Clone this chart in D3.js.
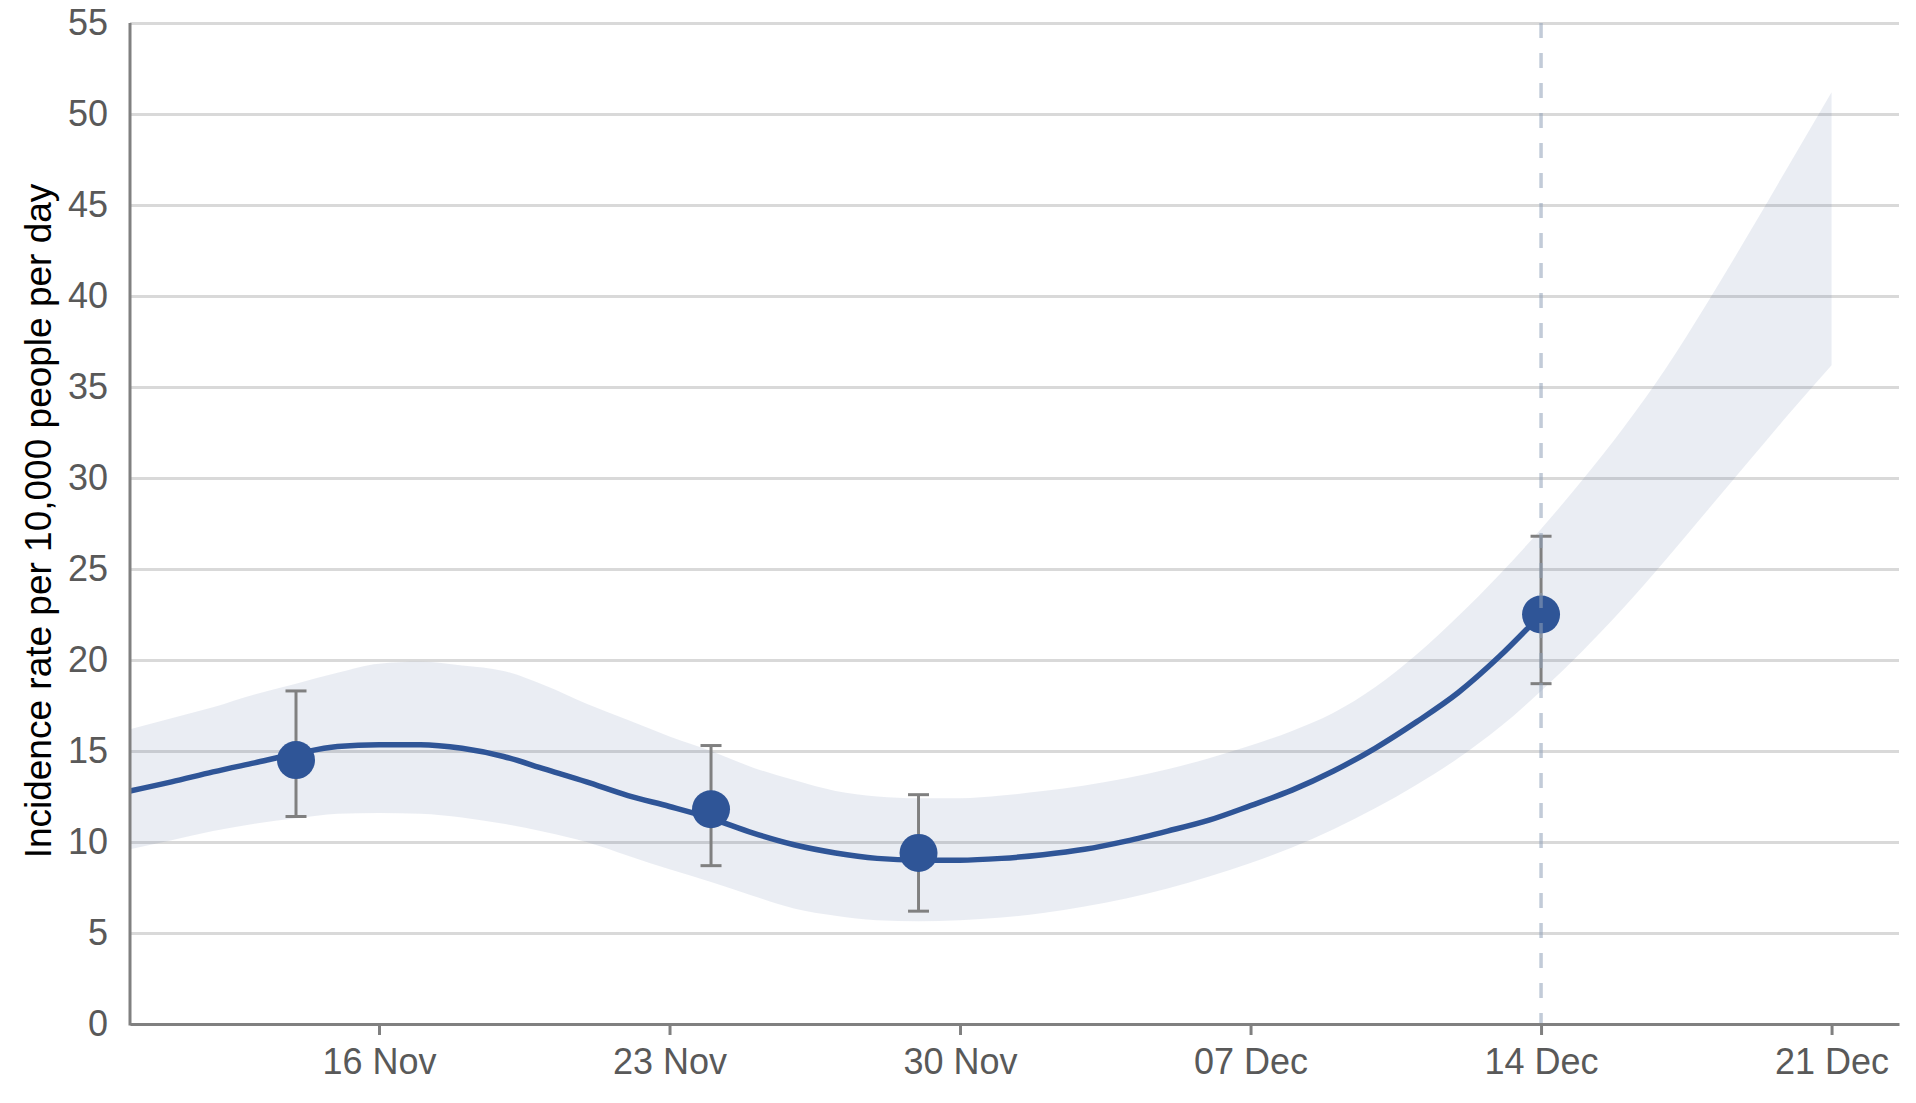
<!DOCTYPE html>
<head>
  <meta charset="utf-8">
  <title>Incidence rate</title>
  <script src="https://d3js.org/d3.v7.min.js"></script>
  <style>
    body { margin: 0; background: #fff; }
    svg { display: block; }
    .tick text { font-family: "Liberation Sans", Arial, sans-serif; font-size: 36px; fill: #595959; }
    .grid line { stroke: #d9d9d9; stroke-width: 3px; }
    .axis-x path, .axis-x line { stroke: #808080; stroke-width: 3px; }
    .ylabel { font-family: "Liberation Sans", Arial, sans-serif; font-size: 37px; fill: #000; }
  </style>
</head>
<body>
<script>
  // modelled daily band (lower / upper credible interval)
  var bandDates = ["2020-11-10","2020-11-11","2020-11-12","2020-11-13","2020-11-14","2020-11-15","2020-11-16",
    "2020-11-17","2020-11-18","2020-11-19","2020-11-20","2020-11-21","2020-11-22","2020-11-23","2020-11-24",
    "2020-11-25","2020-11-26","2020-11-27","2020-11-28","2020-11-29","2020-11-30","2020-12-01","2020-12-02",
    "2020-12-03","2020-12-04","2020-12-05","2020-12-06","2020-12-07","2020-12-08","2020-12-09","2020-12-10",
    "2020-12-11","2020-12-12","2020-12-13","2020-12-14","2020-12-15","2020-12-16","2020-12-17","2020-12-18",
    "2020-12-19","2020-12-20","2020-12-21"];
  var bandLower = [9.6, 10.1, 10.6, 11.0, 11.3, 11.55, 11.6, 11.55, 11.35, 11.0, 10.55, 10.0, 9.25, 8.5, 7.8,
    7.05, 6.35, 5.95, 5.7, 5.65, 5.7, 5.85, 6.1, 6.45, 6.9, 7.45, 8.1, 8.85, 9.7, 10.7, 11.85,
    13.15, 14.6, 16.3, 18.3, 20.5, 22.9, 25.5, 28.2, 30.9, 33.6, 36.2];
  var bandUpper = [16.2, 16.8, 17.4, 18.1, 18.7, 19.3, 19.8, 19.9, 19.7, 19.4, 18.6, 17.6, 16.7, 15.8, 15.0,
    14.1, 13.4, 12.8, 12.5, 12.4, 12.4, 12.55, 12.8, 13.1, 13.5, 14.0, 14.6, 15.3, 16.1, 17.1, 18.5,
    20.3, 22.4, 24.7, 27.2, 29.9, 32.8, 36.0, 39.6, 43.4, 47.3, 51.2];

  // modelled central estimate, 10 Nov to 14 Dec
  var lineValues = [12.8, 13.3, 13.85, 14.35, 14.85, 15.25, 15.35, 15.35, 15.15, 14.7, 14.0, 13.3, 12.55, 11.95, 11.3,
    10.5, 9.85, 9.4, 9.1, 9.0, 9.0, 9.1, 9.3, 9.6, 10.05, 10.6, 11.2, 12.0, 12.85, 13.9, 15.15,
    16.6, 18.2, 20.2, 22.5];

  // official estimates with 95% intervals
  var pointDates = ["2020-11-14", "2020-11-24", "2020-11-29", "2020-12-14"];
  var pointValues = [14.5, 11.8, 9.4, 22.5];
  var pointLower = [11.4, 8.7, 6.2, 18.7];
  var pointUpper = [18.3, 15.3, 12.6, 26.8];

  var xTickDates = ["2020-11-16", "2020-11-23", "2020-11-30", "2020-12-07", "2020-12-14", "2020-12-21"];
  var yTicks = [0, 5, 10, 15, 20, 25, 30, 35, 40, 45, 50, 55];
  var markerDate = "2020-12-14";
  var yLabel = "Incidence rate per 10,000 people per day";

  var W = 1916, H = 1103;
  var margin = {top: 23, right: 17, bottom: 79, left: 130};
  var width = W - margin.left - margin.right,
      height = H - margin.top - margin.bottom;

  var parse = d3.utcParse("%Y-%m-%d");

  var x = d3.scaleUtc()
    .domain([parse("2020-11-10"), new Date(Date.UTC(2020, 11, 22, 15))])
    .range([0, width]);
  var y = d3.scaleLinear().domain([0, 55]).range([height, 0]);

  var svg = d3.select("body").append("svg")
    .attr("width", W)
    .attr("height", H)
  .append("g")
    .attr("transform", "translate(" + margin.left + "," + margin.top + ")");

  // gridlines + y tick labels
  var gy = svg.append("g")
    .attr("class", "grid")
    .call(d3.axisLeft(y).tickValues(yTicks).tickSize(-width).tickPadding(22));
  gy.select(".domain").remove();
  gy.selectAll(".tick text").attr("dy", "0.33em");
  gy.selectAll(".tick line").filter(d => d === 0).remove();

  var band = bandDates.map((d, i) => ({date: parse(d), lo: bandLower[i], hi: bandUpper[i]}));
  var central = lineValues.map((v, i) => ({date: parse(bandDates[i]), v: v}));

  svg.append("path")
    .datum(band)
    .attr("fill", "#3f5f8f")
    .attr("fill-opacity", 0.11)
    .attr("d", d3.area()
      .curve(d3.curveMonotoneX)
      .x(d => x(d.date))
      .y0(d => y(d.lo))
      .y1(d => y(d.hi)));

  svg.append("path")
    .datum(central)
    .attr("fill", "none")
    .attr("stroke", "#2f5597")
    .attr("stroke-width", 5.5)
    .attr("d", d3.line()
      .curve(d3.curveMonotoneX)
      .x(d => x(d.date))
      .y(d => y(d.v)));

  var pts = pointDates.map((d, i) => ({date: parse(d), v: pointValues[i], lo: pointLower[i], hi: pointUpper[i]}));

  var err = svg.append("g")
    .attr("stroke", "#808080")
    .attr("stroke-width", 3)
    .selectAll("g")
    .data(pts)
    .enter().append("g");
  err.append("line")
    .attr("x1", d => x(d.date)).attr("x2", d => x(d.date))
    .attr("y1", d => y(d.lo)).attr("y2", d => y(d.hi));
  err.append("line")
    .attr("x1", d => x(d.date) - 10.5).attr("x2", d => x(d.date) + 10.5)
    .attr("y1", d => y(d.lo)).attr("y2", d => y(d.lo));
  err.append("line")
    .attr("x1", d => x(d.date) - 10.5).attr("x2", d => x(d.date) + 10.5)
    .attr("y1", d => y(d.hi)).attr("y2", d => y(d.hi));

  svg.append("g")
    .selectAll("circle")
    .data(pts)
    .enter().append("circle")
      .attr("cx", d => x(d.date))
      .attr("cy", d => y(d.v))
      .attr("r", 19)
      .attr("fill", "#2f5597");

  // dashed marker for latest estimate
  svg.append("line")
    .attr("x1", x(parse(markerDate))).attr("x2", x(parse(markerDate)))
    .attr("y1", 0).attr("y2", height)
    .attr("stroke", "#8fa0b8")
    .attr("stroke-opacity", 0.55)
    .attr("stroke-width", 3.5)
    .attr("stroke-dasharray", "15,15");

  // x axis
  var gx = svg.append("g")
    .attr("class", "axis-x")
    .attr("transform", "translate(0," + height + ")")
    .call(d3.axisBottom(x)
      .tickValues(xTickDates.map(parse))
      .tickFormat(d3.utcFormat("%d %b"))
      .tickSizeInner(11)
      .tickSizeOuter(0)
      .tickPadding(13));

  // y axis line
  svg.append("line")
    .attr("x1", 0).attr("x2", 0)
    .attr("y1", 0).attr("y2", height + 1.5)
    .attr("stroke", "#808080")
    .attr("stroke-width", 3);

  svg.append("text")
    .attr("class", "ylabel")
    .attr("transform", "translate(" + (51 - margin.left) + "," + (521 - margin.top) + ") rotate(-90)")
    .attr("text-anchor", "middle")
    .text(yLabel);
</script>
</body>
